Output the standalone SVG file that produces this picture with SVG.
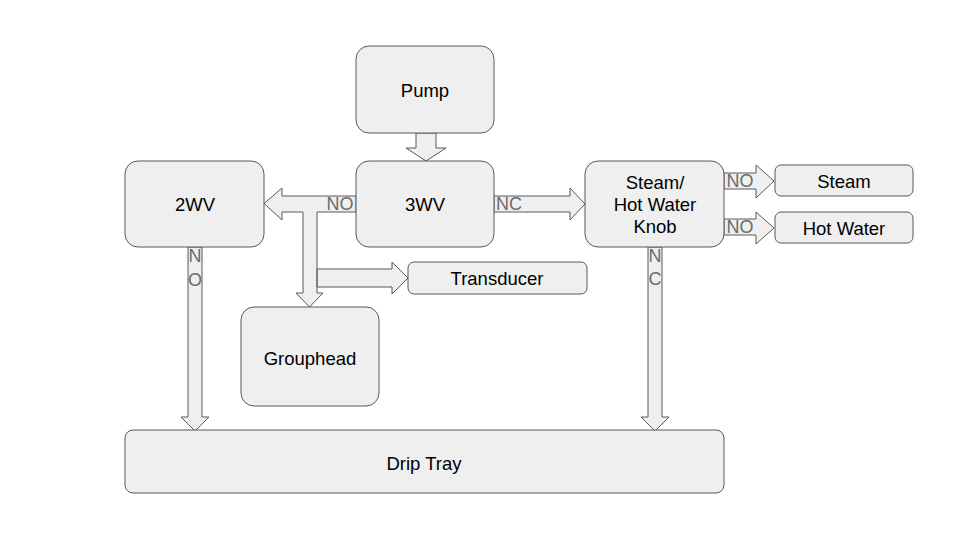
<svg xmlns="http://www.w3.org/2000/svg" width="960" height="540" viewBox="0 0 960 540">
<style>
.box{fill:#efefef;stroke:#595959;stroke-width:1}
.arr{fill:#efefef;stroke:#595959;stroke-width:1;stroke-linejoin:miter}
.t{font-family:"Liberation Sans",Arial,sans-serif;font-size:18.5px;fill:#000;text-anchor:middle;dominant-baseline:central}
.l{font-family:"Liberation Sans",Arial,sans-serif;font-size:18px;fill:#6b6b6b;text-anchor:middle;dominant-baseline:central}
</style>
<rect width="960" height="540" fill="#fff"/>
<g id="connectors">
<path class="arr" d="M416,133 L436,133 L436,148 L446,148 L426,161 L406,148 L416,148 Z"/>
<path class="arr" d="M356,196 L282,196 L282,188 L264,203.5 L282,220 L282,212 L303,212 L303,293 L296,293 L309.5,307 L323,293 L317,293 L317,269 L392,269 L392,262 L408,278 L392,294 L392,287 L317,287 L317,212 L356,212 Z"/>
<path class="arr" d="M494,196 L570,196 L570,188 L585,204 L570,220 L570,212 L494,212 Z"/>
<path class="arr" d="M724,173 L756,173 L756,165 L774,181 L756,198 L756,189 L724,189 Z"/>
<path class="arr" d="M724,219 L756,219 L756,212 L774,228 L756,244 L756,235 L724,235 Z"/>
<path class="arr" d="M188,247 L202,247 L202,417 L209,417 L195,431 L181,417 L188,417 Z"/>
<path class="arr" d="M648,247 L662,247 L662,417 L669,417 L655,431 L641,417 L648,417 Z"/>
<text class="l" x="340" y="204">NO</text>
<text class="l" x="509" y="204">NC</text>
<text class="l" x="740" y="181">NO</text>
<text class="l" x="740" y="227">NO</text>
<text class="l" x="195" y="256">N</text>
<text class="l" x="195" y="280">O</text>
<text class="l" x="655" y="256">N</text>
<text class="l" x="655" y="279">C</text>
</g>
<g id="pump"><rect class="box" x="356" y="46" width="138" height="87" rx="13"/><text class="t" x="425" y="90">Pump</text></g>
<g id="3wv"><rect class="box" x="356" y="161" width="138" height="86" rx="13"/><text class="t" x="425" y="204">3WV</text></g>
<g id="2wv"><rect class="box" x="125" y="161" width="139" height="86" rx="13"/><text class="t" x="195" y="204">2WV</text></g>
<g id="knob"><rect class="box" x="585" y="161" width="139" height="86" rx="13"/><text class="t" x="655" y="182">Steam/</text><text class="t" x="655" y="204">Hot Water</text><text class="t" x="655" y="226">Knob</text></g>
<g id="steam"><rect class="box" x="775" y="165" width="138" height="31" rx="6"/><text class="t" x="844" y="181">Steam</text></g>
<g id="hotwater"><rect class="box" x="775" y="212" width="138" height="31" rx="6"/><text class="t" x="844" y="228">Hot Water</text></g>
<g id="transducer"><rect class="box" x="408" y="262" width="179" height="32" rx="6"/><text class="t" x="497" y="278">Transducer</text></g>
<g id="grouphead"><rect class="box" x="241" y="307" width="138" height="99" rx="13"/><text class="t" x="310" y="358">Grouphead</text></g>
<g id="driptray"><rect class="box" x="125" y="430" width="599" height="63" rx="8"/><text class="t" x="424" y="463">Drip Tray</text></g>
</svg>
